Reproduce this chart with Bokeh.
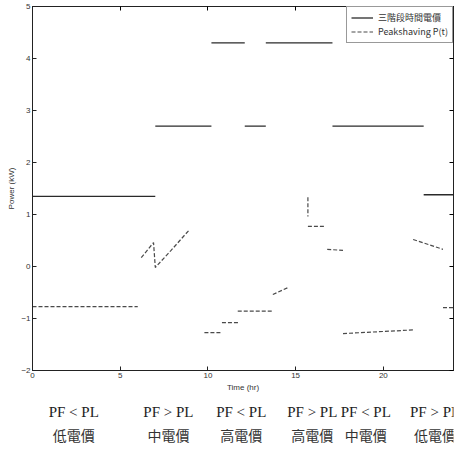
from bokeh.plotting import figure
from bokeh.models import Range1d, LinearAxis, Legend, LegendItem, ColumnDataSource
from bokeh.layouts import column
from bokeh.core.properties import value
from bokeh.embed import file_html
from bokeh.resources import INLINE

# ---- data ----
# three-stage time-of-use price (solid steps)
price_start = [0.0, 7.0, 10.2, 12.1, 13.3, 17.1, 22.3]
price_end = [7.0, 10.2, 12.1, 13.3, 17.1, 22.3, 24.0]
price_val = [1.35, 2.7, 4.3, 2.7, 4.3, 2.7, 1.38]

# peak-shaving power, piecewise (each piece a separate list)
peak_t = [
    [0.0, 6.0],
    [6.2, 6.9, 7.0, 7.9, 8.9],
    [9.8, 10.8],
    [10.8, 11.8],
    [11.7, 13.7],
    [13.7, 14.6],
    [15.7, 15.7],
    [15.7, 16.7],
    [16.8, 17.7],
    [17.7, 21.7],
    [21.7, 23.4],
    [23.4, 24.0],
]
peak_v = [
    [-0.77, -0.77],
    [0.17, 0.46, -0.02, 0.31, 0.69],
    [-1.27, -1.27],
    [-1.08, -1.08],
    [-0.86, -0.86],
    [-0.54, -0.40],
    [1.33, 0.96],
    [0.77, 0.77],
    [0.33, 0.31],
    [-1.29, -1.22],
    [0.52, 0.33],
    [-0.79, -0.79],
]

x_ticks = [0, 5, 10, 15, 20]
y_ticks = [-2, -1, 0, 1, 2, 3, 4, 5]

cond_labels = ["PF < PL", "PF > PL", "PF < PL", "PF > PL", "PF < PL", "PF > PL"]
price_labels = ["低電價", "中電價", "高電價", "高電價", "中電價", "低電價"]

legend_price = "三階段時間電價"
legend_peak = "Peakshaving P(t)"
x_title = "Time (hr)"
y_title = "Power (kW)"

# ---- layout constants ----
label_x = [2.35, 7.75, 11.9, 15.95, 19.0, 22.95]
row1_y = [43] * 6
row2_y = [20] * 6
LEFT = 32
RIGHT = 2
FW = 421

p = figure(
    frame_width=FW, frame_height=364,
    x_range=Range1d(0, 24), y_range=Range1d(-2, 5),
    output_backend="svg", toolbar_location=None,
    min_border_left=LEFT, min_border_right=RIGHT, min_border_top=6, min_border_bottom=22,
    background_fill_color="white", border_fill_color="white",
)
p.grid.visible = False
p.outline_line_color = "#222222"
p.outline_line_width = 1

src = ColumnDataSource(dict(x0=price_start, x1=price_end, y=price_val))
r_price = p.segment(x0="x0", y0="y", x1="x1", y1="y", source=src,
                    line_color="#2a2a2a", line_width=1.3)
r_peak = p.multi_line(xs=peak_t, ys=peak_v, line_color="#4a4a4a",
                      line_width=1.2, line_dash="4 2")

for ax in [p.xaxis[0], p.yaxis[0]]:
    ax.major_tick_in = 4
    ax.major_tick_out = 0
    ax.minor_tick_in = 2
    ax.minor_tick_out = 0
    ax.major_label_text_font = "Liberation Sans"
    ax.major_label_text_font_size = "8px"
    ax.major_label_text_color = "#333333"
    ax.axis_label_text_font = "Liberation Sans"
    ax.axis_label_text_font_size = "8px"
    ax.axis_label_text_font_style = "normal"
    ax.axis_label_text_color = "#333333"
    ax.axis_line_color = "#222222"
    ax.major_tick_line_color = "#222222"
    ax.minor_tick_line_color = "#555555"
    ax.major_label_standoff = 2
    ax.axis_label_standoff = 2

p.xaxis[0].ticker = x_ticks
p.yaxis[0].ticker = y_ticks
p.xaxis[0].axis_label = x_title
p.yaxis[0].axis_label = y_title

ax_r = LinearAxis(major_label_text_font_size="0px", major_tick_in=4, major_tick_out=0,
                  minor_tick_in=2, minor_tick_out=0, axis_line_color="#222222",
                  major_label_standoff=0)
ax_t = LinearAxis(major_label_text_font_size="0px", major_tick_in=4, major_tick_out=0,
                  minor_tick_in=2, minor_tick_out=0, axis_line_color="#222222",
                  major_label_standoff=0)
ax_r.ticker = y_ticks
ax_t.ticker = x_ticks
p.add_layout(ax_r, "right")
p.add_layout(ax_t, "above")

legend = Legend(items=[LegendItem(label=legend_price, renderers=[r_price]),
                       LegendItem(label=legend_peak, renderers=[r_peak])],
                location="top_right", margin=0, padding=4, spacing=1,
                label_text_font="Noto Sans CJK TC", label_text_font_size="9px",
                label_text_color="#333333", glyph_width=22, glyph_height=11,
                label_height=11, border_line_color="#333333",
                background_fill_alpha=1.0)
p.add_layout(legend)

# bottom annotation strip, sharing the x range
p2 = figure(
    frame_width=FW, frame_height=60,
    x_range=p.x_range, y_range=Range1d(0, 60),
    output_backend="svg", toolbar_location=None,
    min_border_left=LEFT, min_border_right=RIGHT, min_border_top=0, min_border_bottom=0,
    background_fill_color="white", border_fill_color="white",
)
p2.axis.visible = False
p2.grid.visible = False
p2.outline_line_color = None

p2.text(x=label_x, y=row1_y, text=cond_labels,
        text_font=value("Liberation Serif"), text_font_size="15px",
        text_align="center", text_baseline="middle", text_color="#222222")
p2.text(x=label_x, y=row2_y, text=price_labels,
        text_font=value("Noto Sans CJK TC"), text_font_size="14px",
        text_align="center", text_baseline="middle", text_color="#333333")

layout = column(p, p2, spacing=0)
open("out.html", "w").write(file_html(layout, INLINE))
